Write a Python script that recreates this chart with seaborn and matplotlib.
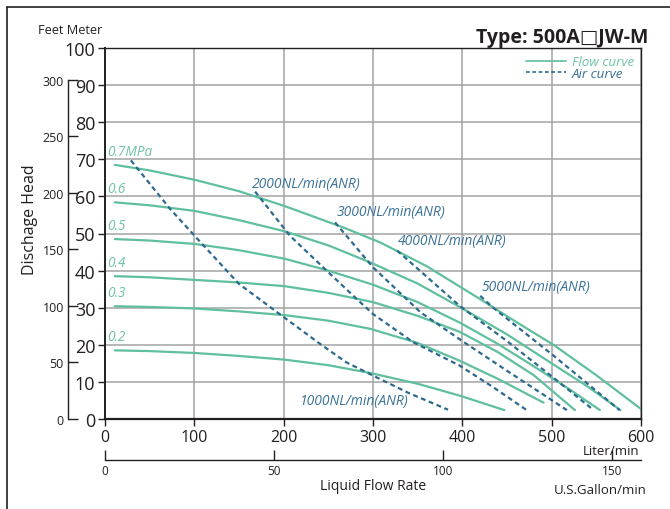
import matplotlib
matplotlib.use("Agg")
import matplotlib.pyplot as plt
from matplotlib.lines import Line2D
import seaborn as sns

# ---------------- data ----------------
pressure_labels = ["0.7MPa", "0.6", "0.5", "0.4", "0.3", "0.2"]
flow_x = [
    [11, 50, 100, 150, 201, 266, 308, 360, 420, 460, 502, 550, 601],
    [11, 50, 100, 150, 201, 250, 297, 350, 400, 450, 500, 540, 577],
    [11, 50, 100, 150, 201, 250, 300, 350, 397, 440, 480, 520, 554],
    [11, 50, 100, 150, 201, 250, 300, 350, 397, 440, 480, 526],
    [11, 50, 100, 150, 201, 250, 297, 350, 397, 440, 491],
    [11, 50, 100, 150, 201, 250, 297, 350, 397, 447],
]
flow_y = [
    [68.5, 67.0, 64.5, 61.4, 57.4, 51.7, 47.6, 41.2, 32.3, 26.2, 20.0, 11.8, 2.5],
    [58.4, 57.6, 56.1, 53.6, 50.6, 46.8, 42.2, 36.5, 29.8, 22.8, 15.0, 8.8, 2.4],
    [48.5, 48.1, 47.2, 45.5, 43.2, 40.0, 36.2, 31.5, 26.0, 20.2, 14.2, 8.0, 2.4],
    [38.5, 38.2, 37.5, 36.8, 35.8, 34.0, 31.5, 27.8, 23.5, 18.0, 11.8, 2.4],
    [30.4, 30.2, 29.8, 29.0, 28.0, 26.5, 24.3, 20.5, 15.7, 10.8, 4.4],
    [18.5, 18.3, 17.8, 17.0, 16.0, 14.5, 12.4, 9.5, 6.3, 2.4],
]
air_labels = ["1000NL/min(ANR)", "2000NL/min(ANR)", "3000NL/min(ANR)",
              "4000NL/min(ANR)", "5000NL/min(ANR)"]
air_x = [
    [29, 73, 101, 150, 201, 241, 270, 300, 340, 384],
    [168, 207, 252, 282, 300, 345, 397, 435, 472],
    [257.5, 300, 353, 400, 450, 517],
    [327, 397, 450, 500, 547],
    [420, 434, 502, 576],
]
air_y = [
    [69.7, 56.6, 49.2, 36.4, 27.3, 20.2, 15.3, 11.7, 7.0, 2.5],
    [61.3, 49.4, 39.1, 32.3, 28.3, 20.7, 14.4, 8.5, 2.4],
    [53.0, 40.9, 28.8, 21.0, 13.0, 2.4],
    [45.4, 30.5, 21.0, 11.5, 2.4],
    [33.2, 30.1, 17.1, 2.4],
]
meter_ticks = [0, 10, 20, 30, 40, 50, 60, 70, 80, 90, 100]
feet_ticks = [0, 50, 100, 150, 200, 250, 300]
liter_ticks = [0, 100, 200, 300, 400, 500, 600]
gallon_ticks = [0, 50, 100, 150]
title = "Type: 500A\u25a1JW-M"

# ---------------- style ----------------
sns.set_theme(style="white")
plt.rcParams["font.family"] = ["Open Sans", "DejaVu Sans"]

FLOW = "#5fbf9f"
FLOW_TXT = "#6fc4a6"
AIR = "#2c6a8e"
AIR_TXT = "#3a7298"
TXT = "#231f20"

W, H = 670, 510
fig = plt.figure(figsize=(W / 100, H / 100), dpi=100)
L, R, B, T = 105, 641, 420, 49
ax = fig.add_axes([L / W, 1 - B / H, (R - L) / W, (B - T) / H])

for xs, ys in zip(flow_x, flow_y):
    sns.lineplot(x=xs, y=ys, ax=ax, color=FLOW, lw=1.6, sort=False,
                 estimator=None, legend=False)
for xs, ys in zip(air_x, air_y):
    sns.lineplot(x=xs, y=ys, ax=ax, color=AIR, lw=1.6, sort=False,
                 estimator=None, legend=False)
for line in ax.lines[len(flow_x):]:
    line.set_dashes((2.2, 1.6))

ax.set_xlim(0, 600)
ax.set_ylim(0, 100)
ax.set_xticks(liter_ticks)
ax.set_yticks(meter_ticks)
ax.grid(True, color="#a3a3a3", lw=1.1)
ax.set_axisbelow(True)
for s in ax.spines.values():
    s.set_color(TXT)
    s.set_linewidth(1.0)
ax.spines["left"].set_linewidth(1.4)
ax.spines["bottom"].set_linewidth(1.6)
ax.tick_params(axis="y", direction="out", length=5, width=1, color=TXT,
               labelsize=13, labelcolor=TXT, pad=2, left=True)
ax.tick_params(axis="x", direction="out", length=5, width=1, color=TXT,
               labelsize=11.5, labelcolor=TXT, pad=2, bottom=True)
ax.set_xlabel("")
ax.set_ylabel("")

# curve labels
for lab, ys in zip(pressure_labels, flow_y):
    ax.text(3, ys[0] + 3.7, lab, color=FLOW_TXT, fontsize=9.8, style="italic",
            ha="left", va="center")
air_pos = [(218, 4.9), (164.5, 63.6), (259.5, 55.8), (328, 48.0), (421, 35.6)]
for lab, (px, py) in zip(air_labels, air_pos):
    ax.text(px, py, lab, color=AIR_TXT, fontsize=10, style="italic",
            ha="left", va="center")

# legend
handles = [Line2D([], [], color=FLOW, lw=1.2),
           Line2D([], [], color=AIR, lw=1.2, dashes=(2.2, 1.6))]
leg = ax.legend(handles, ["Flow curve", "Air curve"], loc="upper right",
                frameon=False, handlelength=3.0, handletextpad=0.4,
                labelspacing=-0.1, borderaxespad=0.15,
                prop={"style": "italic", "size": 9.6})
for t, c in zip(leg.get_texts(), [FLOW_TXT, AIR_TXT]):
    t.set_color(c)

# feet axis
fx = 68
ax_ft = fig.add_axes([fx / W, 1 - B / H, 0.0001, (B - T) / H])
ax_ft.set_ylim(0, 100 * 3.28084)
ax_ft.set_yticks(feet_ticks)
ax_ft.set_xticks([])
for k in ["top", "right", "bottom"]:
    ax_ft.spines[k].set_visible(False)
ax_ft.spines["left"].set_bounds(0, 300)
ax_ft.spines["left"].set_color(TXT)
ax_ft.spines["left"].set_linewidth(1.0)
ax_ft.patch.set_visible(False)
ax_ft.tick_params(axis="y", direction="in", length=7, width=1, color=TXT,
                  labelsize=9, labelcolor=TXT, pad=3, left=True)

# gallon axis
gx = ax.secondary_xaxis(-(461 - B) / (B - T),
                        functions=(lambda v: v / 3.78541, lambda v: v * 3.78541))
gx.set_xticks(gallon_ticks)
gx.tick_params(axis="x", direction="in", length=7, width=1, color=TXT,
               labelsize=8.5, labelcolor=TXT, pad=3)
gx.spines["bottom"].set_color(TXT)
gx.spines["bottom"].set_linewidth(1.0)

# texts
fig.text(70 / W, 1 - 30 / H, "Feet Meter", fontsize=9.2, color=TXT,
         ha="center", va="center")
fig.text(30 / W, 1 - 220 / H, "Dischage Head", fontsize=11.5, color=TXT,
         rotation=90, ha="center", va="center")
fig.text(648 / W, 1 - 38 / H, title, fontsize=14, weight="bold", color=TXT,
         ha="right", va="center")
fig.text(611 / W, 1 - 452 / H, "Liter/min", fontsize=9.5, color=TXT,
         ha="center", va="center")
fig.text(373 / W, 1 - 487 / H, "Liquid Flow Rate", fontsize=10, color=TXT,
         ha="center", va="center")
fig.text(600 / W, 1 - 491 / H, "U.S.Gallon/min", fontsize=9.5, color=TXT,
         ha="center", va="center")

# outer frame
fig.add_artist(Line2D([7 / W, 7 / W], [0, 1 - 8 / H], color=TXT, lw=1.2,
                      transform=fig.transFigure))
fig.add_artist(Line2D([7 / W, 1], [1 - 8 / H, 1 - 8 / H], color=TXT, lw=1.2,
                      transform=fig.transFigure))

fig.savefig("out.png", dpi=100)
